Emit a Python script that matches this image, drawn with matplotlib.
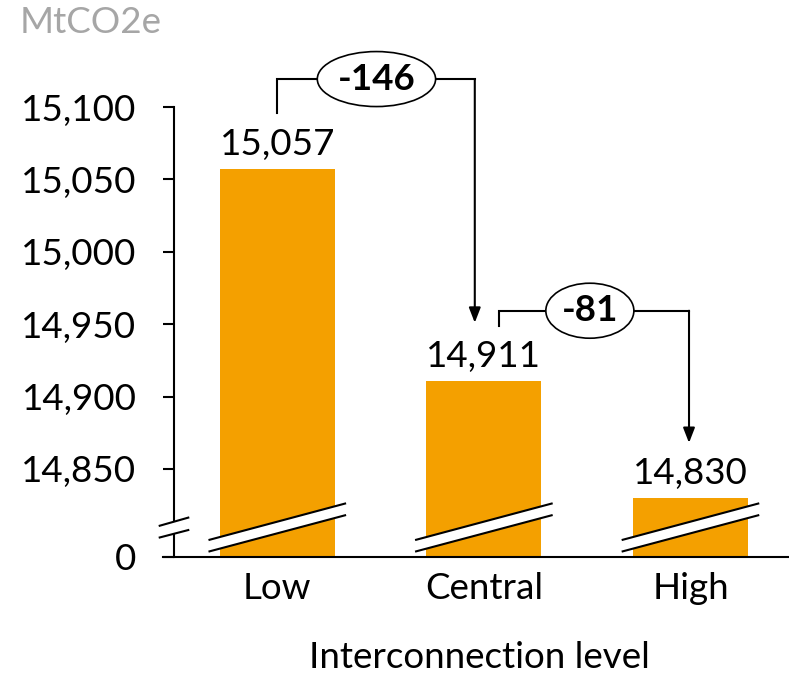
import matplotlib
matplotlib.use("Agg")
import matplotlib.pyplot as plt
from matplotlib.patches import Polygon

plt.rcParams['font.family'] = ['Lato', 'DejaVu Sans']

categories = ["Low", "Central", "High"]
values = [15057, 14911, 14830]
value_labels = ["15,057", "14,911", "14,830"]
yticks = [14850, 14900, 14950, 15000, 15050, 15100]
ytick_labels = ["14,850", "14,900", "14,950", "15,000", "15,050", "15,100"]
deltas = ["-146", "-81"]
base = 14789.2   # value shown as "0" (axis break)

bar_color = "#F4A000"
lw = 1.5
fs = 26.5

fig = plt.figure(figsize=(7.89, 6.78), dpi=100)
ax = fig.add_axes([174/789, (678-557)/678, 1 - 174/789, (557-107)/678])

x = list(range(len(categories)))
ax.bar(x, values, width=0.557, color=bar_color, bottom=0, zorder=2)
ax.set_xlim(-0.5, 2.477)
ax.set_ylim(base, 15100)

ax.set_yticks([base] + yticks)
ax.set_yticklabels(["0"] + ytick_labels, fontsize=fs)
ax.set_xticks(x)
ax.set_xticklabels(categories, fontsize=fs)
ax.tick_params(axis='y', length=8, width=lw, pad=19)
ax.tick_params(axis='x', length=0, pad=11)
for s in ['top', 'right']:
    ax.spines[s].set_visible(False)
ax.spines['left'].set_linewidth(lw)
ax.spines['bottom'].set_linewidth(lw)
ax.spines['bottom'].set_bounds(-0.555, 2.477)
ax.spines['bottom'].set_clip_on(False)

# value labels
for xi, v, lab in zip(x, values, value_labels):
    ax.annotate(lab, (xi, v), xytext=(0, 10), textcoords='offset points',
                ha='center', va='baseline', fontsize=fs)

# break marks on bars
def break_mark(xc, half, y_lo1, y_hi1, y_lo2, y_hi2):
    poly = Polygon([(xc-half, y_lo1), (xc+half, y_hi1), (xc+half, y_hi2), (xc-half, y_lo2)],
                   closed=True, facecolor='white', edgecolor='none', zorder=5, clip_on=False)
    ax.add_patch(poly)
    ax.plot([xc-half, xc+half], [y_lo1, y_hi1], color='black', lw=lw, zorder=6, clip_on=False,
            solid_capstyle='butt')
    ax.plot([xc-half, xc+half], [y_lo2, y_hi2], color='black', lw=lw, zorder=6, clip_on=False,
            solid_capstyle='butt')

for xi in x:
    break_mark(xi, 0.333, base + 11.7, base + 37.1, base + 3.7, base + 29.0)
# y-axis break
break_mark(-0.5, 0.074, base + 21.4, base + 27.4, base + 13.3, base + 18.8)

# bracket annotations
def bracket(x0, y0, ytop, x1, ytip, label, xlab):
    ax.plot([x0, x0, x1], [y0, ytop, ytop], color='black', lw=lw, clip_on=False, zorder=7,
            solid_joinstyle='miter')
    ax.annotate('', xy=(x1, ytip), xytext=(x1, ytop),
                arrowprops=dict(arrowstyle='-|>,head_length=0.9,head_width=0.35',
                                color='black', lw=lw, shrinkA=0, shrinkB=0),
                annotation_clip=False, zorder=7)
    ax.text(xlab, ytop, label, ha='center', va='center', fontsize=fs, fontweight='bold',
            zorder=8, clip_on=False,
            bbox=dict(boxstyle='ellipse,pad=0.08', facecolor='white', edgecolor='black', lw=1.2))

bracket(0.0, values[0] + 39, 15119.3, 0.956, values[1] + 40, deltas[0], 0.48)
bracket(1.072, values[1] + 38, 14959.3, 1.993, values[2] + 38, deltas[1], 1.513)

fig.text(20/789, 1 - 6/678, "MtCO2e", color="#A6A6A6", fontsize=fs, ha='left', va='top')
fig.text(479.5/789, 1 - 658/678, "Interconnection level", fontsize=fs, ha='center', va='center')

fig.savefig("out.png", dpi=100)
